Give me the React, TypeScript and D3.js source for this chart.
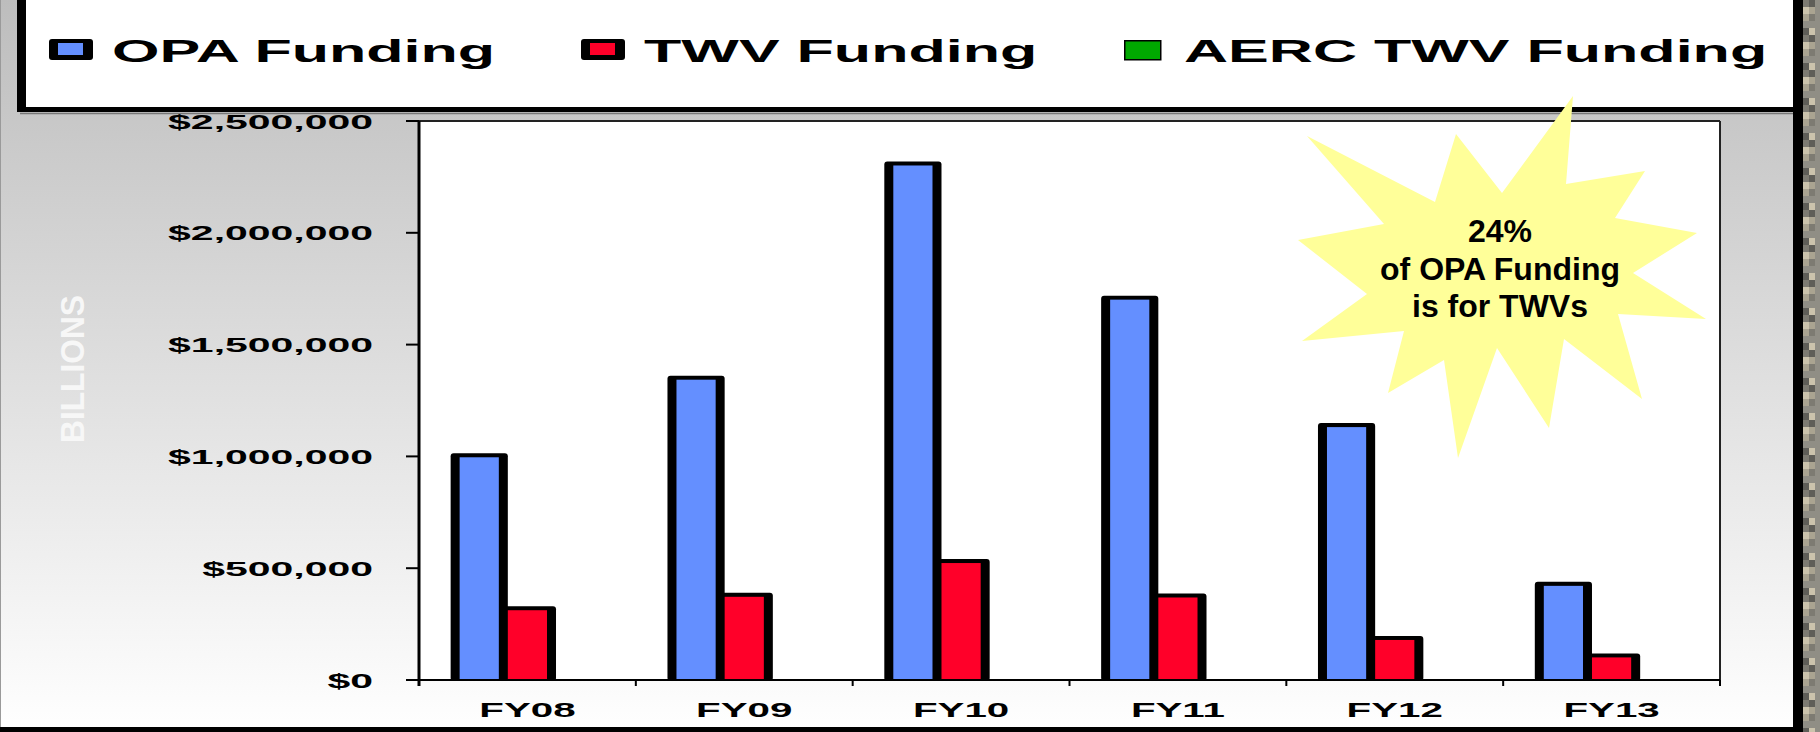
import React from 'react';
import * as d3 from 'd3';

// chart data
const categories = ['FY08', 'FY09', 'FY10', 'FY11', 'FY12', 'FY13'];
const seriesNames = ['OPA Funding', 'TWV Funding', 'AERC TWV Funding'];
const opaValues = [1005000, 1352000, 2310000, 1710000, 1140000, 430000];
const twvValues = [321000, 381000, 532000, 378000, 188000, 110000];
const aercValues = [0, 0, 0, 0, 0, 0];
const yTicks = [0, 500000, 1000000, 1500000, 2000000, 2500000];
const axisTitle = 'BILLIONS';
const calloutLines = ['24%', 'of OPA Funding', 'is for TWVs'];

const seriesColors = ['#648fff', '#ff0029', '#00a800'];
const FONT = '"Liberation Sans", Arial, sans-serif';

// the callout burst shape (annotation outline)
const burst: [number, number][] = [
  [1573, 96], [1566, 184], [1645, 171], [1615, 218], [1697, 233], [1633, 273],
  [1706, 319], [1618, 314], [1642, 399], [1564, 339], [1549, 428], [1497, 348],
  [1458, 458], [1444, 360], [1388, 393], [1404, 331], [1302, 341], [1367, 294],
  [1298, 240], [1384, 224], [1307, 136], [1435, 202], [1456, 134], [1502, 193],
];

const W = 1820;
const H = 732;
const plot = { left: 419, right: 1720, top: 121, bottom: 680 };
const SX = 1.95; // the whole chart was stretched sideways

const App = () => {
  const x0 = d3
    .scaleBand()
    .domain(categories)
    .range([plot.left, plot.right])
    .paddingInner(1 / 3)
    .paddingOuter(1 / 6);
  const x1 = d3.scaleBand().domain(seriesNames).range([0, x0.bandwidth()]);
  const y = d3.scaleLinear().domain([0, 2500000]).range([plot.bottom, plot.top]);
  const seriesValues = [opaValues, twvValues, aercValues];
  const fmt = d3.format(',');

  const bars: { xl: number; xr: number; yt: number; color: string }[] = [];
  categories.forEach((c, i) => {
    seriesNames.forEach((s, k) => {
      const v = seriesValues[k][i];
      if (!v) return;
      const xl = (x0(c) as number) + (x1(s) as number);
      bars.push({ xl, xr: xl + x1.bandwidth(), yt: y(v), color: seriesColors[k] });
    });
  });
  const yb = y(0);

  const step = x0.step();
  const bounds = categories.map((c) => (x0(c) as number) - (step * x0.paddingInner()) / 2);
  bounds.push(bounds[bounds.length - 1] + step);

  // camouflage strip on the right edge
  const camoColors = ['#7d7b72', '#aaa491', '#5f5e58', '#cbc3ac', '#908e85'];
  const camo = [];
  for (let j = 0; j < Math.ceil(H / 7); j++) {
    for (let i = 0; i < 3; i++) {
      camo.push(
        <rect key={`c${i}-${j}`} x={1803 + i * 6} y={j * 7} width={6} height={7}
          fill={camoColors[(i * 7 + j * 3 + ((i * j) % 5)) % 5]} />
      );
    }
  }

  const legendX = [49, 581, 1124];

  return (
    <svg width={W} height={H} style={{ position: 'absolute', left: 0, top: 0 }} fontFamily={FONT}>
      <defs>
        <linearGradient id="bg" x1="0" y1="0" x2="0" y2="1">
          <stop offset="0" stopColor="#bdbdbd" />
          <stop offset="1" stopColor="#ffffff" />
        </linearGradient>
      </defs>
      <rect x={0} y={0} width={1800} height={H} fill="url(#bg)" />
      <line x1={0.5} y1={0} x2={0.5} y2={H} stroke="#9a9a9a" />

      {/* plot area */}
      <rect x={plot.left} y={plot.top} width={plot.right - plot.left} height={plot.bottom - plot.top} fill="#fff" />
      <line x1={plot.left} y1={plot.top} x2={plot.right} y2={plot.top} stroke="#222" strokeWidth={2} />
      <line x1={plot.right} y1={plot.top} x2={plot.right} y2={plot.bottom + 6} stroke="#222" strokeWidth={2} />

      {/* bars */}
      {bars.map((b, i) => (
        <rect key={`o${i}`} x={b.xl - 4.5} y={b.yt - 2} width={b.xr - b.xl + 9} height={yb - b.yt + 3} rx={3} fill="#000" />
      ))}
      {bars.map((b, i) => (
        <rect key={`f${i}`} x={b.xl + 4.5} y={b.yt + 2} width={b.xr - b.xl - 9} height={yb - b.yt - 3} fill={b.color} />
      ))}

      {/* axes */}
      <line x1={plot.left} y1={plot.top} x2={plot.left} y2={plot.bottom + 6} stroke="#000" strokeWidth={3} />
      <line x1={plot.left} y1={yb} x2={plot.right} y2={yb} stroke="#000" strokeWidth={2} />
      {yTicks.map((t) => (
        <g key={t}>
          <line x1={plot.left - 13} y1={y(t)} x2={plot.left} y2={y(t)} stroke="#000" strokeWidth={2} />
          <text transform={`translate(373,${y(t)}) scale(${SX},1)`} dy="0.36em" textAnchor="end"
            fontSize={21} fontWeight="bold" fill="#000">
            {'$' + fmt(t)}
          </text>
        </g>
      ))}
      {bounds.map((bx, i) => (
        <line key={i} x1={bx} y1={yb} x2={bx} y2={yb + 6} stroke="#000" strokeWidth={2} />
      ))}
      {categories.map((c) => (
        <text key={c} transform={`translate(${(x0(c) as number) + x0.bandwidth() / 2},717) scale(1.92,1)`}
          textAnchor="middle" fontSize={21} fontWeight="bold" fill="#000">
          {c}
        </text>
      ))}

      <text transform="translate(84,369) rotate(-90)" textAnchor="middle" fontSize={33} fontWeight="bold"
        fill="#f7f7f7" textLength={148} lengthAdjust="spacingAndGlyphs">
        {axisTitle}
      </text>

      {/* legend */}
      <rect x={17} y={-10} width={1780} height={122} fill="#fff" />
      <rect x={17} y={-10} width={9} height={122} fill="#000" />
      <rect x={17} y={107} width={1780} height={5} fill="#000" />
      <line x1={20} y1={113.5} x2={1795} y2={113.5} stroke="#777" strokeWidth={1.5} />
      {seriesNames.map((s, k) =>
        k < 2 ? (
          <g key={s}>
            <rect x={legendX[k]} y={39} width={44} height={21} rx={3} fill="#000" />
            <rect x={legendX[k] + 9} y={43} width={25} height={12} fill={seriesColors[k]} />
          </g>
        ) : (
          <rect key={s} x={legendX[k] + 0.75} y={40.75} width={36} height={19} fill={seriesColors[k]}
            stroke="#000" strokeWidth={1.5} />
        )
      )}
      {seriesNames.map((s, k) => (
        <text key={s} transform={`translate(${legendX[k] + (k < 2 ? 63 : 60)},62) scale(1.97,1)`}
          fontSize={31} fontWeight="bold" fill="#000">
          {s}
        </text>
      ))}

      {/* callout */}
      <polygon points={burst.map((p) => p.join(',')).join(' ')} fill="#ffff99" />
      {calloutLines.map((l, i) => (
        <text key={i} x={1500} y={242 + i * 37.5} textAnchor="middle" fontSize={32} fontWeight="bold" fill="#000">
          {l}
        </text>
      ))}

      {/* outer frame */}
      <rect x={1793} y={0} width={10} height={H} fill="#000" />
      <rect x={0} y={727} width={1803} height={5} fill="#000" />
      {camo}
    </svg>
  );
};

export default App;
